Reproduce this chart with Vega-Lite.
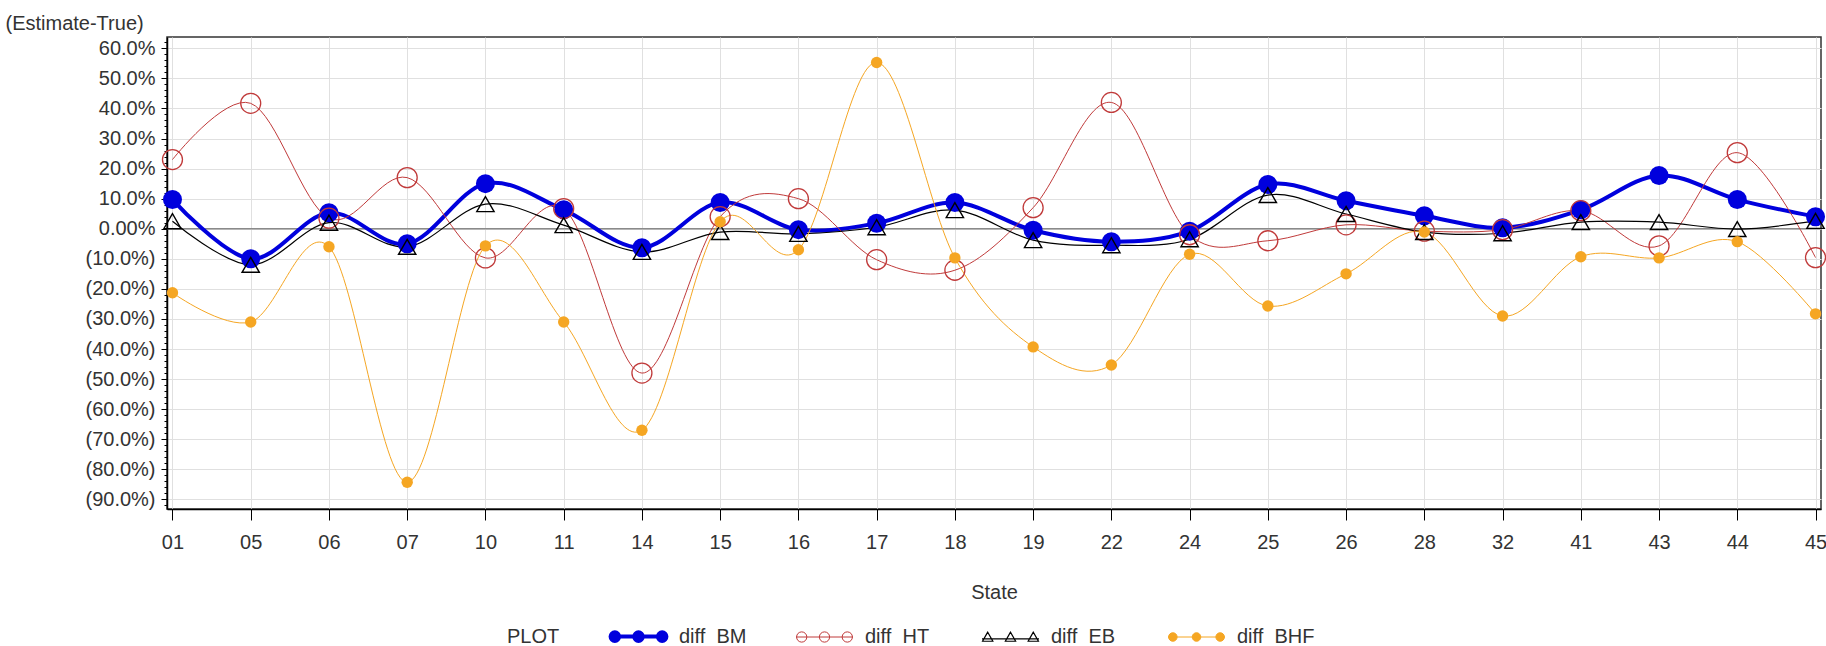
{
  "$schema": "https://vega.github.io/schema/vega-lite/v6.json",
  "width": 1654,
  "height": 472,
  "autosize": {"type": "none"},
  "padding": {"left": 167, "top": 37, "right": 5, "bottom": 137},
  "background": "white",
  "config": {
    "font": "Liberation Sans",
    "view": {"stroke": "#333333", "strokeWidth": 1.5}
  },
  "data": {"values": [
    {"State":"01","series":"diff_BM","value":0.097},
    {"State":"05","series":"diff_BM","value":-0.10},
    {"State":"06","series":"diff_BM","value":0.053},
    {"State":"07","series":"diff_BM","value":-0.05},
    {"State":"10","series":"diff_BM","value":0.15},
    {"State":"11","series":"diff_BM","value":0.063},
    {"State":"14","series":"diff_BM","value":-0.063},
    {"State":"15","series":"diff_BM","value":0.087},
    {"State":"16","series":"diff_BM","value":-0.003},
    {"State":"17","series":"diff_BM","value":0.018},
    {"State":"18","series":"diff_BM","value":0.087},
    {"State":"19","series":"diff_BM","value":-0.005},
    {"State":"22","series":"diff_BM","value":-0.043},
    {"State":"24","series":"diff_BM","value":-0.008},
    {"State":"25","series":"diff_BM","value":0.147},
    {"State":"26","series":"diff_BM","value":0.093},
    {"State":"28","series":"diff_BM","value":0.043},
    {"State":"32","series":"diff_BM","value":0.003},
    {"State":"41","series":"diff_BM","value":0.063},
    {"State":"43","series":"diff_BM","value":0.177},
    {"State":"44","series":"diff_BM","value":0.097},
    {"State":"45","series":"diff_BM","value":0.04},
    {"State":"01","series":"diff_HT","value":0.23},
    {"State":"05","series":"diff_HT","value":0.417},
    {"State":"06","series":"diff_HT","value":0.035},
    {"State":"07","series":"diff_HT","value":0.17},
    {"State":"10","series":"diff_HT","value":-0.097},
    {"State":"11","series":"diff_HT","value":0.067},
    {"State":"14","series":"diff_HT","value":-0.48},
    {"State":"15","series":"diff_HT","value":0.04},
    {"State":"16","series":"diff_HT","value":0.10},
    {"State":"17","series":"diff_HT","value":-0.103},
    {"State":"18","series":"diff_HT","value":-0.138},
    {"State":"19","series":"diff_HT","value":0.07},
    {"State":"22","series":"diff_HT","value":0.42},
    {"State":"24","series":"diff_HT","value":-0.02},
    {"State":"25","series":"diff_HT","value":-0.04},
    {"State":"26","series":"diff_HT","value":0.013},
    {"State":"28","series":"diff_HT","value":-0.008},
    {"State":"32","series":"diff_HT","value":-0.003},
    {"State":"41","series":"diff_HT","value":0.06},
    {"State":"43","series":"diff_HT","value":-0.057},
    {"State":"44","series":"diff_HT","value":0.253},
    {"State":"45","series":"diff_HT","value":-0.096},
    {"State":"01","series":"diff_EB","value":0.025},
    {"State":"05","series":"diff_EB","value":-0.12},
    {"State":"06","series":"diff_EB","value":0.02},
    {"State":"07","series":"diff_EB","value":-0.06},
    {"State":"10","series":"diff_EB","value":0.082},
    {"State":"11","series":"diff_EB","value":0.012},
    {"State":"14","series":"diff_EB","value":-0.077},
    {"State":"15","series":"diff_EB","value":-0.011},
    {"State":"16","series":"diff_EB","value":-0.017},
    {"State":"17","series":"diff_EB","value":0.005},
    {"State":"18","series":"diff_EB","value":0.062},
    {"State":"19","series":"diff_EB","value":-0.038},
    {"State":"22","series":"diff_EB","value":-0.055},
    {"State":"24","series":"diff_EB","value":-0.035},
    {"State":"25","series":"diff_EB","value":0.112},
    {"State":"26","series":"diff_EB","value":0.049},
    {"State":"28","series":"diff_EB","value":-0.011},
    {"State":"32","series":"diff_EB","value":-0.015},
    {"State":"41","series":"diff_EB","value":0.022},
    {"State":"43","series":"diff_EB","value":0.022},
    {"State":"44","series":"diff_EB","value":-0.001},
    {"State":"45","series":"diff_EB","value":0.026},
    {"State":"01","series":"diff_BHF","value":-0.213},
    {"State":"05","series":"diff_BHF","value":-0.31},
    {"State":"06","series":"diff_BHF","value":-0.06},
    {"State":"07","series":"diff_BHF","value":-0.843},
    {"State":"10","series":"diff_BHF","value":-0.057},
    {"State":"11","series":"diff_BHF","value":-0.31},
    {"State":"14","series":"diff_BHF","value":-0.67},
    {"State":"15","series":"diff_BHF","value":0.023},
    {"State":"16","series":"diff_BHF","value":-0.07},
    {"State":"17","series":"diff_BHF","value":0.553},
    {"State":"18","series":"diff_BHF","value":-0.097},
    {"State":"19","series":"diff_BHF","value":-0.393},
    {"State":"22","series":"diff_BHF","value":-0.453},
    {"State":"24","series":"diff_BHF","value":-0.085},
    {"State":"25","series":"diff_BHF","value":-0.257},
    {"State":"26","series":"diff_BHF","value":-0.15},
    {"State":"28","series":"diff_BHF","value":-0.011},
    {"State":"32","series":"diff_BHF","value":-0.29},
    {"State":"41","series":"diff_BHF","value":-0.093},
    {"State":"43","series":"diff_BHF","value":-0.097},
    {"State":"44","series":"diff_BHF","value":-0.043},
    {"State":"45","series":"diff_BHF","value":-0.283}
  ]},
  "layer": [
    {
      "data": {"values": [{"value": 0}]},
      "mark": {"type": "rule", "color": "#8a8a8a", "strokeWidth": 1.5},
      "encoding": {
        "y": {"field": "value", "type": "quantitative",
          "scale": {"domain": [-0.932, 0.6376], "nice": false, "zero": false}}
      }
    },
    {
      "mark": {"type": "line", "interpolate": "cardinal"},
      "encoding": {
        "x": {"field": "State", "type": "ordinal",
          "scale": {"type": "point", "padding": 0.07, "domain": ["01","05","06","07","10","11","14","15","16","17","18","19","22","24","25","26","28","32","41","43","44","45"]},
          "axis": {"title": "State", "labelAngle": 0, "grid": true, "gridColor": "#e0e0e0", "tickSize": 11, "tickColor": "#000000", "domainColor": "#000000", "domainWidth": 1.5, "labelFontSize": 20, "labelColor": "#333333", "labelPadding": 12, "titleFontSize": 20, "titleFontWeight": "normal", "titleColor": "#333333", "titlePadding": 30}},
        "y": {"field": "value", "type": "quantitative",
          "scale": {"domain": [-0.932, 0.6376], "nice": false, "zero": false},
          "axis": {"orient": "left",
            "values": [-0.92,-0.9,-0.88,-0.86,-0.84,-0.82,-0.8,-0.78,-0.76,-0.74,-0.72,-0.7,-0.68,-0.66,-0.64,-0.62,-0.6,-0.58,-0.56,-0.54,-0.52,-0.5,-0.48,-0.46,-0.44,-0.42,-0.4,-0.38,-0.36,-0.34,-0.32,-0.3,-0.28,-0.26,-0.24,-0.22,-0.2,-0.18,-0.16,-0.14,-0.12,-0.1,-0.08,-0.06,-0.04,-0.02,0,0.02,0.04,0.06,0.08,0.1,0.12,0.14,0.16,0.18,0.2,0.22,0.24,0.26,0.28,0.3,0.32,0.34,0.36,0.38,0.4,0.42,0.44,0.46,0.48,0.5,0.52,0.54,0.56,0.58,0.6,0.62],
            "tickCount": 200,
            "labelExpr": "abs(datum.value * 10 - round(datum.value * 10)) < 0.001 ? (abs(datum.value) < 0.001 ? '0.00%' : (datum.value > 0 ? format(datum.value, '.1%') : '(' + format(-datum.value, '.1%') + ')')) : ''",
            "labelOverlap": false,
            "grid": true, "gridColor": "#e0e0e0",
            "gridOpacity": {"condition": {"test": "abs(datum.value * 10 - round(datum.value * 10)) >= 0.001", "value": 0}, "value": 1},
            "tickSize": {"condition": {"test": "abs(datum.value * 10 - round(datum.value * 10)) >= 0.001", "value": 3}, "value": 6},
            "tickColor": "#000000", "domainColor": "#000000", "domainWidth": 1.5,
            "labelFontSize": 20, "labelColor": "#333333", "labelPadding": 6,
            "title": "(Estimate-True)", "titleAngle": 0, "titleAlign": "left", "titleBaseline": "alphabetic", "titleX": -162, "titleY": -8,
            "titleFontSize": 20, "titleFontWeight": "normal", "titleColor": "#333333"}},
        "color": {"field": "series", "type": "nominal",
          "scale": {"domain": ["diff_BM","diff_HT","diff_EB","diff_BHF"], "range": ["#0000DD","#C03A3A","#000000","#F5A623"]},
          "legend": {"orient": "none", "legendX": 340, "legendY": 569, "direction": "horizontal", "columns": 4, "gridAlign": "all",
            "title": "PLOT", "titleOrient": "left", "titleAnchor": "middle", "titleBaseline": "top", "titleFontSize": 20, "titleFontWeight": "normal", "titleColor": "#333333", "titlePadding": 48,
            "labelFontSize": 20, "labelColor": "#333333", "labelOffset": 10, "columnPadding": 36, "padding": 0,
            "symbolSize": 3249, "symbolStrokeWidth": 1}},
        "strokeWidth": {"field": "series", "type": "nominal",
          "scale": {"type": "ordinal", "domain": ["diff_BM","diff_HT","diff_EB","diff_BHF"], "range": [4, 1, 1.2, 1]}, "legend": null}
      }
    },
    {
      "mark": {"type": "point", "size": 0, "strokeWidth": 0, "filled": true},
      "encoding": {
        "x": {"field": "State", "type": "ordinal",
          "scale": {"type": "point", "padding": 0.07, "domain": ["01","05","06","07","10","11","14","15","16","17","18","19","22","24","25","26","28","32","41","43","44","45"]}},
        "y": {"field": "value", "type": "quantitative",
          "scale": {"domain": [-0.932, 0.6376], "nice": false, "zero": false}},
        "shape": {"field": "series", "type": "nominal",
          "scale": {"domain": ["diff_BM","diff_HT","diff_EB","diff_BHF"], "range": [
            "M-1,0L1,0M-0.68,0A0.15,0.15,0,1,1,-0.98,0A0.15,0.15,0,1,1,-0.68,0ZM0.15,0A0.15,0.15,0,1,1,-0.15,0A0.15,0.15,0,1,1,0.15,0ZM0.98,0A0.15,0.15,0,1,1,0.68,0A0.15,0.15,0,1,1,0.98,0Z",
            "M-1,0L1,0M-0.62,0A0.18,0.18,0,1,1,-0.98,0A0.18,0.18,0,1,1,-0.62,0ZM0.18,0A0.18,0.18,0,1,1,-0.18,0A0.18,0.18,0,1,1,0.18,0ZM0.98,0A0.18,0.18,0,1,1,0.62,0A0.18,0.18,0,1,1,0.98,0Z",
            "M-1,0.06L1,0.06M-0.8,-0.18L-0.98,0.14L-0.62,0.14ZM0,-0.18L-0.18,0.14L0.18,0.14ZM0.8,-0.18L0.62,0.14L0.98,0.14Z",
            "M-1,0L1,0M-0.68,0A0.15,0.15,0,1,1,-0.98,0A0.15,0.15,0,1,1,-0.68,0ZM0.15,0A0.15,0.15,0,1,1,-0.15,0A0.15,0.15,0,1,1,0.15,0ZM0.98,0A0.15,0.15,0,1,1,0.68,0A0.15,0.15,0,1,1,0.98,0Z"
          ]}, "legend": null},
        "fill": {"field": "series", "type": "nominal",
          "scale": {"domain": ["diff_BM","diff_HT","diff_EB","diff_BHF"], "range": ["#0000DD","transparent","transparent","#F5A623"]}, "legend": null}
      }
    },
    {
      "transform": [{"filter": "datum.series === 'diff_BM'"}],
      "mark": {"type": "point", "shape": "circle", "filled": true, "color": "#0000DD", "size": 361, "strokeWidth": 1, "opacity": 1},
      "encoding": {
        "x": {"field": "State", "type": "ordinal",
          "scale": {"type": "point", "padding": 0.07, "domain": ["01","05","06","07","10","11","14","15","16","17","18","19","22","24","25","26","28","32","41","43","44","45"]}},
        "y": {"field": "value", "type": "quantitative",
          "scale": {"domain": [-0.932, 0.6376], "nice": false, "zero": false}}
      }
    },
    {
      "transform": [{"filter": "datum.series === 'diff_HT'"}],
      "mark": {"type": "point", "shape": "circle", "filled": false, "color": "#C03A3A", "size": 400, "strokeWidth": 1.3, "opacity": 1},
      "encoding": {
        "x": {"field": "State", "type": "ordinal",
          "scale": {"type": "point", "padding": 0.07, "domain": ["01","05","06","07","10","11","14","15","16","17","18","19","22","24","25","26","28","32","41","43","44","45"]}},
        "y": {"field": "value", "type": "quantitative",
          "scale": {"domain": [-0.932, 0.6376], "nice": false, "zero": false}}
      }
    },
    {
      "transform": [{"filter": "datum.series === 'diff_EB'"}],
      "mark": {"type": "point", "shape": "triangle-up", "filled": false, "color": "#000000", "size": 300, "strokeWidth": 1.4, "opacity": 1},
      "encoding": {
        "x": {"field": "State", "type": "ordinal",
          "scale": {"type": "point", "padding": 0.07, "domain": ["01","05","06","07","10","11","14","15","16","17","18","19","22","24","25","26","28","32","41","43","44","45"]}},
        "y": {"field": "value", "type": "quantitative",
          "scale": {"domain": [-0.932, 0.6376], "nice": false, "zero": false}}
      }
    },
    {
      "transform": [{"filter": "datum.series === 'diff_BHF'"}],
      "mark": {"type": "point", "shape": "circle", "filled": true, "color": "#F5A623", "size": 130, "strokeWidth": 0, "opacity": 1},
      "encoding": {
        "x": {"field": "State", "type": "ordinal",
          "scale": {"type": "point", "padding": 0.07, "domain": ["01","05","06","07","10","11","14","15","16","17","18","19","22","24","25","26","28","32","41","43","44","45"]}},
        "y": {"field": "value", "type": "quantitative",
          "scale": {"domain": [-0.932, 0.6376], "nice": false, "zero": false}}
      }
    }
  ]
}
